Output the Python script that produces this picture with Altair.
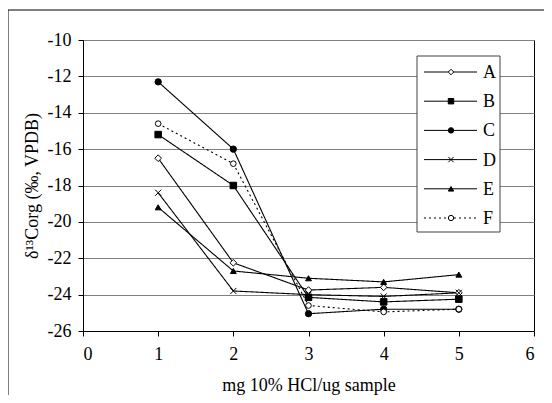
import altair as alt
import pandas as pd

# ---- data ----
x_vals = [1, 2, 3, 4, 5]
series_names = ["A", "B", "C", "D", "E", "F"]
A = [-16.5, -22.25, -23.75, -23.6, -23.9]
B = [-15.2, -18.0, -24.15, -24.4, -24.25]
C = [-12.3, -16.0, -25.05, -24.8, -24.8]
D = [-18.4, -23.8, -24.0, -24.1, -23.9]
E = [-19.2, -22.7, -23.1, -23.3, -22.9]
F = [-14.6, -16.8, -24.6, -24.95, -24.8]
x_ticks = [0, 1, 2, 3, 4, 5, 6]
y_ticks = [-26, -24, -22, -20, -18, -16, -14, -12, -10]

# ---- styles ----
FONT = "Liberation Serif"
shapes = ["diamond", "square", "circle", "M-1,-1L1,1M-1,1L1,-1", "triangle-up", "circle"]
fills = ["white", "black", "black", "white", "black", "white"]
point_sizes = [45, 32, 58, 45, 64, 45]
legend_sizes = [30, 28, 45, 30, 55, 30]
dashes = [[1, 0], [1, 0], [1, 0], [1, 0], [1, 0], [2, 3]]

rows = []
for name, vals in zip(series_names, [A, B, C, D, E, F]):
    for xv, yv in zip(x_vals, vals):
        rows.append({"series": name, "x": xv, "y": yv})
df = pd.DataFrame(rows)
leg = pd.DataFrame({"series": series_names, "idx": list(range(len(series_names)))})
one = pd.DataFrame({"k": [0]})

shape_enc = alt.Shape("series:N", scale=alt.Scale(domain=series_names, range=shapes), legend=None)
fill_enc = alt.Fill("series:N", scale=alt.Scale(domain=series_names, range=fills), legend=None)
dash_enc = alt.StrokeDash("series:N", scale=alt.Scale(domain=series_names, range=dashes), legend=None)

x_enc = alt.X(
    "x:Q",
    scale=alt.Scale(domain=[0, 6], nice=False, zero=False),
    axis=alt.Axis(values=x_ticks, title="mg 10% HCl/ug sample", grid=False, tickSize=5,
                  labelPadding=9, titleBaseline="alphabetic", titleY=59),
)
y_enc = alt.Y(
    "y:Q",
    scale=alt.Scale(domain=[-26, -10], nice=False, zero=False),
    axis=alt.Axis(values=y_ticks, title="δ¹³Corg (‰, VPDB)", labelExpr="'' + datum.value",
                  grid=True, gridColor="#808080", gridWidth=1, tickSize=5, labelPadding=7,
                  titleBaseline="alphabetic", titleX=-46),
)

lines = alt.Chart(df).mark_line(color="black", strokeWidth=1.1).encode(
    x=x_enc, y=y_enc, detail="series:N", strokeDash=dash_enc
)
points = alt.Chart(df).mark_point(stroke="black", strokeWidth=1, opacity=1, fillOpacity=1).encode(
    x=x_enc, y=y_enc, shape=shape_enc, fill=fill_enc,
    size=alt.Size("series:N", scale=alt.Scale(domain=series_names, range=point_sizes), legend=None),
)
main = alt.layer(lines, points)

# outer frame (top and left edges visible)
frame_top = alt.Chart(one).mark_rule(color="black", strokeWidth=1).encode(
    x=alt.value(-75), x2=alt.value(470), y=alt.value(-30)
)
frame_left = alt.Chart(one).mark_rule(color="black", strokeWidth=1).encode(
    x=alt.value(-75), y=alt.value(-30), y2=alt.value(370)
)

# legend
box = alt.Chart(one).mark_rect(fill="white", stroke="#404040", strokeWidth=1).encode(
    x=alt.value(334), x2=alt.value(417), y=alt.value(16), y2=alt.value(192)
)
leg_y = alt.Y("idx:Q", scale=alt.Scale(domain=[0, 5], range=[32, 178]), axis=None)
leg_lines = alt.Chart(leg).mark_rule(color="black", strokeWidth=1).encode(
    x=alt.value(341), x2=alt.value(394), y=leg_y, strokeDash=dash_enc
)
leg_pts = alt.Chart(leg).mark_point(stroke="black", strokeWidth=1, opacity=1, fillOpacity=1).encode(
    x=alt.value(368), y=leg_y, shape=shape_enc, fill=fill_enc,
    size=alt.Size("series:N", scale=alt.Scale(domain=series_names, range=legend_sizes), legend=None),
)
leg_text = alt.Chart(leg).mark_text(align="left", baseline="middle", font=FONT, fontSize=18,
                                    color="black", dy=1).encode(
    x=alt.value(400), y=leg_y, text="series:N"
)
legend_layer = alt.layer(leg_lines, leg_pts, leg_text)

chart = (
    alt.layer(frame_top, frame_left, main, box, legend_layer)
    .resolve_scale(y="independent", size="independent")
    .properties(
        width=451,
        height=291,
        autosize=alt.AutoSizeParams(type="none"),
        padding={"left": 75, "top": 32, "right": 10, "bottom": 64},
    )
    .configure_view(stroke="black", strokeWidth=1)
    .configure_axis(
        labelFont=FONT, titleFont=FONT, labelFontSize=18, titleFontSize=18,
        titleFontWeight="normal", labelColor="black", titleColor="black",
        tickColor="black", domainColor="black",
    )
)

chart.save("out.html", embed_options={"renderer": "svg", "actions": False})
